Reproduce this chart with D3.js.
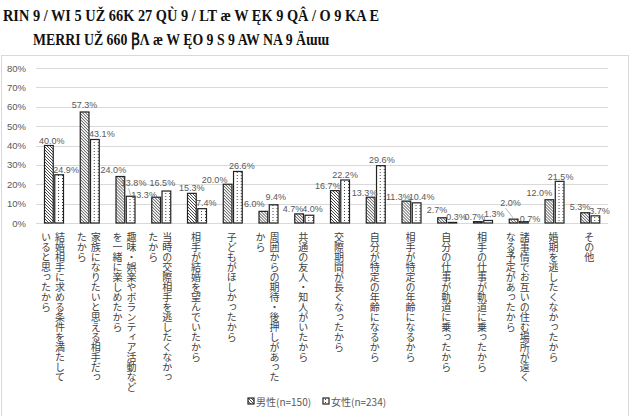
<!DOCTYPE html>
<html>
<head>
<meta charset="utf-8">
<script src="https://cdn.jsdelivr.net/npm/d3@7"></script>
<style>
  body { margin: 0; background: #fff; }
  svg { display: block; }
</style>
</head>
<body>
<div id="chart"></div>
<script>
// data (percent)
const categories = [
    ["結婚相手に求める条件を満たして", "いると思ったから"],
    ["家族になりたいと思える相手だっ", "たから"],
    ["趣味・娯楽やボランティア活動など", "を一緒に楽しめたから"],
    ["当時の交際相手を逃したくなかっ", "たから"],
    ["相手が結婚を望んでいたから"],
    ["子どもがほしかったから"],
    ["周囲からの期待・後押しがあった", "から"],
    ["共通の友人・知人がいたから"],
    ["交際期間が長くなったから"],
    ["自分が特定の年齢になるから"],
    ["相手が特定の年齢になるから"],
    ["自分の仕事が軌道に乗ったから"],
    ["相手の仕事が軌道に乗ったから"],
    ["諸事情でお互いの住む場所が遠く", "なる予定があったから"],
    ["婚期を逃したくなかったから"],
    ["その他"]
];
const male = [40.0, 57.3, 24.0, 13.3, 15.3, 20.0, 6.0, 4.7, 16.7, 13.3, 11.3, 2.7, 0.7, 2.0, 12.0, 5.3];
const female = [24.9, 43.1, 13.8, 16.5, 7.4, 26.6, 9.4, 4.0, 22.2, 29.6, 10.4, 0.3, 1.3, 0.7, 21.5, 3.7];
const yTicks = [0, 10, 20, 30, 40, 50, 60, 70, 80];
const seriesNames = ["男性(n=150)", "女性(n=234)"];
const titleLines = [
    "RIN 9  / WI 5  UŽ 66K  27 QÙ 9 / LT æ W  ĘK 9 QÂ / O 9 KA E",
    "MERRI UŽ 660 ꞴΛ æ W  ĘO 9 S 9 AW ΝA 9 Äɯɯ"
];

// label nudges (the labels were dragged by hand in the original): [dx from bar centre, dy of text centre from bar top]
const maleShift = [[3, -4.5], [0, -7], [-7, -6.5], [-12, -2], [0, -5.7], [-13, -4.3], [-9, -8], [-6, -5],
                   [-7, -5], [-6, -4], [-8, -4.5], [-5, -8], [-3, -5], [-3, -16], [-10, -6.5], [-5, -6]];
const femaleShift = [[7, -4.7], [7, -5.5], [3, -13], [-4, -8], [4, -5.7], [4, -5.5], [2, -8], [3, -6],
                     [0, -5], [1, -5.6], [5, -6], [4, -6], [6, -7], [6, -3], [1, -4.6], [4, -5]];

const width = 631;
const height = 416;
const jp = "'Noto Sans CJK JP', 'Noto Sans', sans-serif";
const grey = "#595959";

const svg = d3.select("#chart")
    .append("svg")
    .attr("width", width)
    .attr("height", height);

// patterns
const defs = svg.append("defs");
const hatch = defs.append("pattern")
    .attr("id", "hatch")
    .attr("patternUnits", "userSpaceOnUse")
    .attr("width", 3).attr("height", 3);
hatch.append("rect").attr("width", 3).attr("height", 3).attr("fill", "#fff");
hatch.append("path")
    .attr("d", "M-1,-1 L4,4 M-1,2 L1,4 M2,-1 L4,1")
    .attr("stroke", "#333").attr("stroke-width", 0.9);

const dots = defs.append("pattern")
    .attr("id", "dots")
    .attr("patternUnits", "userSpaceOnUse")
    .attr("width", 4).attr("height", 3);
dots.append("rect").attr("width", 4).attr("height", 3).attr("fill", "#fff");
dots.append("rect").attr("x", 2).attr("y", 1).attr("width", 1).attr("height", 1).attr("fill", "#444");

// frame
svg.append("rect")
    .attr("x", 1.5).attr("y", 55.5)
    .attr("width", 627).attr("height", 380)
    .attr("fill", "none")
    .attr("stroke", "#d9d9d9");

// title (as shown)
titleLines.forEach((t, i) => {
    svg.append("text")
        .attr("x", i === 0 ? 3 : 33)
        .attr("y", i === 0 ? 21 : 45)
        .attr("textLength", i === 0 ? 376 : 296)
        .attr("lengthAdjust", "spacingAndGlyphs")
        .style("font-family", "'Liberation Serif', serif")
        .style("font-size", "17px")
        .style("font-weight", "bold")
        .attr("fill", "#111")
        .text(t);
});

const x = d3.scaleBand()
    .domain(d3.range(categories.length))
    .range([36, 608]);

const x1 = d3.scaleBand()
    .domain(["m", "f"])
    .range([8.5, 27.5])
    .paddingInner(0.15);

const y = d3.scaleLinear()
    .domain([0, 80])
    .range([223, 68]);

// grid + y labels
const yAxis = svg.append("g");
yAxis.selectAll("line")
    .data(yTicks)
    .enter().append("line")
    .attr("x1", 36).attr("x2", 608)
    .attr("y1", d => Math.round(y(d)) + 0.5)
    .attr("y2", d => Math.round(y(d)) + 0.5)
    .attr("stroke", "#d9d9d9");
yAxis.selectAll("text")
    .data(yTicks)
    .enter().append("text")
    .attr("x", 26)
    .attr("y", d => y(d) + 3.5)
    .attr("text-anchor", "end")
    .style("font-family", "'Liberation Sans', Arial, sans-serif")
    .style("font-size", "9.5px")
    .attr("fill", grey)
    .text(d => d + "%");

// bars
const rows = categories.map((c, i) => ({ i, m: male[i], f: female[i] }));

const groups = svg.selectAll(".cat")
    .data(rows)
    .enter().append("g")
    .attr("class", "cat")
    .attr("transform", d => `translate(${x(d.i)},0)`);

groups.append("rect")
    .attr("x", x1("m"))
    .attr("y", d => y(d.m))
    .attr("width", x1.bandwidth())
    .attr("height", d => y(0) - y(d.m))
    .attr("fill", "url(#hatch)")
    .attr("stroke", "#222")
    .attr("stroke-width", 1.2);

groups.append("rect")
    .attr("x", x1("f"))
    .attr("y", d => y(d.f))
    .attr("width", x1.bandwidth())
    .attr("height", d => y(0) - y(d.f))
    .attr("fill", "url(#dots)")
    .attr("stroke", "#222")
    .attr("stroke-width", 1.2);

// value labels
const labelFont = "'Liberation Sans', Arial, sans-serif";
[["m", maleShift], ["f", femaleShift]].forEach(([key, shift]) => {
    const cx = x1(key) + x1.bandwidth() / 2;
    // leader lines where a label was pulled well away from its bar
    groups.filter(d => shift[d.i][1] < -10)
        .append("line")
        .attr("x1", d => cx + shift[d.i][0] - 5)
        .attr("y1", d => y(d[key]) + shift[d.i][1] + 5)
        .attr("x2", cx)
        .attr("y2", d => y(d[key]) - 0.5)
        .attr("stroke", "#a6a6a6")
        .attr("stroke-width", 0.8);
    groups.append("text")
        .attr("x", d => cx + shift[d.i][0])
        .attr("y", d => y(d[key]) + shift[d.i][1] + 3.2)
        .attr("text-anchor", "middle")
        .style("font-family", labelFont)
        .style("font-size", "9px")
        .attr("fill", grey)
        .text(d => d[key].toFixed(1) + "%");
});

// vertical category labels
categories.forEach((lines, i) => {
    const cx = x(i) + x.bandwidth() / 2;
    const off = (lines.length - 1) * 7;
    lines.forEach((ln, j) => {
        svg.append("text")
            .attr("x", cx + off - j * 14 - 1)
            .attr("y", 232)
            .style("writing-mode", "vertical-rl")
            .style("font-family", jp)
            .style("font-size", "10px")
            .attr("fill", "#404040")
            .text(ln);
    });
});

// legend
const legend = svg.append("g")
    .attr("transform", "translate(248, 398)");
seriesNames.forEach((name, i) => {
    const row = legend.append("g")
        .attr("transform", `translate(${i * 75}, 0)`);
    row.append("rect")
        .attr("width", 6).attr("height", 6)
        .attr("fill", i === 0 ? "url(#hatch)" : "url(#dots)")
        .attr("stroke", "#222")
        .attr("stroke-width", 1.2);
    row.append("text")
        .attr("x", 8)
        .attr("y", 7.5)
        .style("font-family", jp)
        .style("font-size", "10px")
        .attr("fill", grey)
        .text(name);
});
</script>
</body>
</html>
